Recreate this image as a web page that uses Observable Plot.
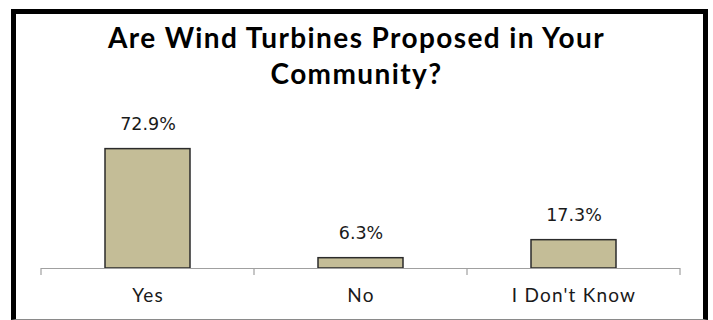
<!DOCTYPE html>
<html>
<head>
<meta charset="utf-8">
<script src="https://cdn.jsdelivr.net/npm/d3@7"></script>
<script src="https://cdn.jsdelivr.net/npm/@observablehq/plot@0.6"></script>
<style>
  html, body { margin: 0; padding: 0; background: #fff; }
  body { width: 713px; height: 320px; position: relative; overflow: hidden; }
  #frame { position: absolute; left: 11px; top: 9px; width: 697px; height: 311px; box-sizing: border-box;
           border: 5px solid #000; border-bottom: 1px solid #8a8a8a; }
  #title { position: absolute; left: 0; top: 19px; width: 713px; text-align: center;
           font-family: Lato, sans-serif; font-weight: bold; font-size: 28px; letter-spacing: 1.4px;
           line-height: 36px; color: #000; }
  #chart { position: absolute; left: 0; top: 100px; }
</style>
</head>
<body>
<div id="frame"></div>
<div id="title">Are Wind Turbines Proposed in Your<br>Community?</div>
<div id="chart"></div>
<script>
const categories = ["Yes", "No", "I Don't Know"];
const values = [72.9, 6.3, 17.3];
const valueLabels = ["72.9%", "6.3%", "17.3%"];

const data = categories.map((c, i) => ({category: c, value: values[i], label: valueLabels[i]}));

const W = 713, H = 205;
const chart = Plot.plot({
  width: W,
  height: H,
  marginLeft: 41,
  marginRight: W - 680,
  marginTop: 37,
  marginBottom: 37,
  x: {domain: categories, paddingInner: 0.6, paddingOuter: 0.3, label: null},
  y: {domain: [0, 80], axis: null},
  style: {background: "transparent", overflow: "visible"},
  marks: [
    Plot.barY(data, {x: "category", y: "value", fill: "#c4bd97", stroke: "#2b2b2b", strokeWidth: 1.5}),
    Plot.ruleY([0], {stroke: "#a0a0a0", strokeWidth: 1.2}),
    Plot.text(data, {x: "category", y: "value", text: "label", lineAnchor: "bottom", dy: -19,
      fontFamily: "DejaVu Sans, sans-serif", fontSize: 17.5, fill: "#1a1a1a"}),
    Plot.axisX({tickSize: 0, tickPadding: 20, fontFamily: "Lato, sans-serif", fontSize: 19, fill: "#1a1a1a"})
  ]
});

// Excel-style boundary ticks derived from the band scale
const xs = chart.scale("x");
const ys = chart.scale("y");
const y0 = ys.apply(0);
const half = (xs.step - xs.bandwidth) / 2;
const bounds = categories.map(c => xs.apply(c) - half);
bounds.push(xs.apply(categories[categories.length - 1]) + xs.bandwidth + half);
d3.select(chart).append("g")
  .selectAll("line").data(bounds).join("line")
  .attr("x1", d => d).attr("x2", d => d)
  .attr("y1", y0).attr("y2", y0 + 7)
  .attr("stroke", "#a0a0a0").attr("stroke-width", 1.2);

d3.select(chart).selectAll("g[aria-label='x-axis tick label'] text").style("letter-spacing", "1.2px");

document.getElementById("chart").appendChild(chart);
</script>
</body>
</html>
